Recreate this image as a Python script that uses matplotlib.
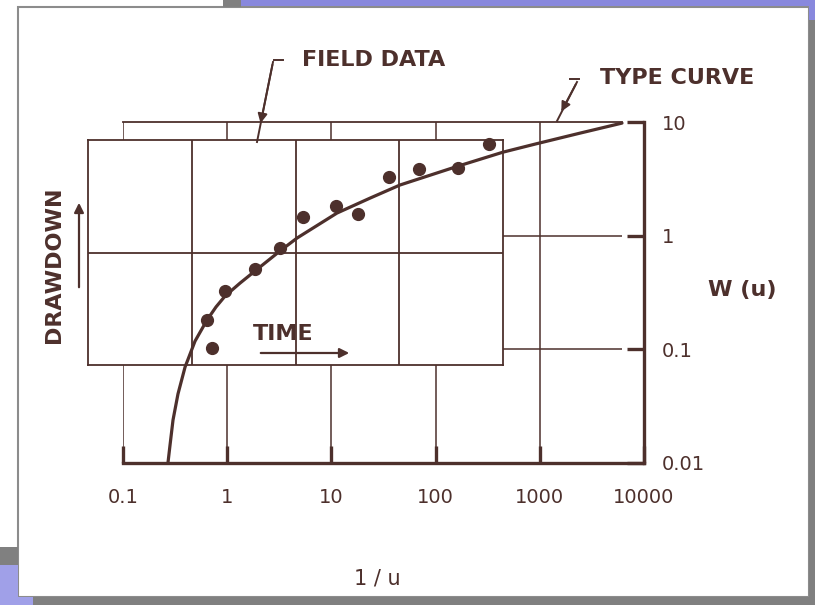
import matplotlib
matplotlib.use("Agg")
import matplotlib.pyplot as plt
from matplotlib.patches import Rectangle, FancyArrowPatch
from matplotlib.lines import Line2D
from matplotlib.ticker import NullLocator

# Type curve, W(u) against 1/u
type_x = [0.270, 0.282, 0.302, 0.337, 0.394, 0.491, 0.640, 0.781, 0.953, 1.33, 1.85,
          3.21, 4.68, 11.3, 23.5, 45.5, 164, 444, 900, 2430, 6150]
type_w = [0.010, 0.0141, 0.0239, 0.0405, 0.0698, 0.118, 0.181, 0.236, 0.294, 0.383, 0.489,
          0.733, 0.953, 1.58, 2.14, 2.79, 4.09, 5.43, 6.39, 7.98, 9.78]

# Field data on its own log-log sheet (time, drawdown)
field_t = [15.7, 14.0, 20.9, 40.7, 70.9, 118, 246, 400, 796, 1550, 3680, 7330]
field_s = [0.142, 0.251, 0.455, 0.713, 1.10, 2.07, 2.59, 2.20, 4.69, 5.52, 5.64, 9.20]

x_ticks = [0.1, 1, 10, 100, 1000, 10000]
x_labels = ["0.1", "1", "10", "100", "1000", "10000"]
y_ticks = [0.01, 0.1, 1, 10]
y_labels = ["0.01", "0.1", "1", "10"]

ink = "#4d302c"
W, H = 815, 605

fig = plt.figure(figsize=(W / 100, H / 100), dpi=100)
fig.patch.set_facecolor("white")


def fx(x):
    return x / W


def fy(y):
    return 1 - y / H


def box(x0, y0, x1, y1, **kw):
    fig.add_artist(Rectangle((fx(x0), fy(y1)), (x1 - x0) / W, (y1 - y0) / H,
                             transform=fig.transFigure, **kw))


# slide frame
box(18, 7, 809, 597, facecolor="white", edgecolor="#8c8c8c", lw=1.5)
box(241, 0, 815, 6, facecolor="#8888dd", edgecolor="none")
box(809, 0, 815, 20, facecolor="#8888dd", edgecolor="none")
box(223, 0, 241, 7, facecolor="#808080", edgecolor="none")
box(241, 6, 809, 8, facecolor="#8c8c8c", edgecolor="none")
box(809, 20, 815, 605, facecolor="#808080", edgecolor="none")
box(33, 597, 815, 605, facecolor="#808080", edgecolor="none")
box(0, 547, 18, 565, facecolor="#808080", edgecolor="none")
box(0, 565, 18, 605, facecolor="#a0a0e8", edgecolor="none")
box(18, 597, 33, 605, facecolor="#a0a0e8", edgecolor="none")

# type curve sheet
ax = fig.add_axes([fx(123), fy(463), 521 / W, 341 / H])
ax.set_zorder(1)
ax.patch.set_alpha(0)
ax.set_xscale("log")
ax.set_yscale("log")
ax.set_xlim(0.1, 10000)
ax.set_ylim(0.01, 10)
ax.vlines(x_ticks[:-1], 0.01, 10, color=ink, lw=1.1)
ax.hlines(y_ticks[1:3], 0.1, type_x[-1], color=ink, lw=1.1)
ax.spines["left"].set_visible(False)
ax.spines["top"].set_bounds(0.1, type_x[-1])
ax.spines["top"].set_linewidth(1.3)
for side in ["bottom", "right"]:
    ax.spines[side].set_linewidth(2.4)
for side in ax.spines:
    ax.spines[side].set_color(ink)
ax.set_xticks(x_ticks)
ax.set_xticklabels(x_labels)
ax.set_yticks(y_ticks)
ax.set_yticklabels(y_labels)
ax.xaxis.set_minor_locator(NullLocator())
ax.yaxis.set_minor_locator(NullLocator())
ax.yaxis.tick_right()
ax.tick_params(axis="x", direction="in", length=12, width=2.4, color=ink,
               labelcolor=ink, labelsize=14, pad=18)
ax.tick_params(axis="y", direction="in", length=12, width=2.4, color=ink,
               labelcolor=ink, labelsize=14, pad=13)

# field data sheet laid over it
fa = fig.add_axes([fx(88), fy(365), 415 / W, 225 / H])
fa.set_zorder(2)
fa.set_facecolor("white")
fa.set_xscale("log")
fa.set_yscale("log")
fa.set_xlim(1, 10000)
fa.set_ylim(0.1, 10)
fa.set_xticks([10, 100, 1000])
fa.set_yticks([1])
fa.xaxis.set_minor_locator(NullLocator())
fa.yaxis.set_minor_locator(NullLocator())
fa.tick_params(length=0, labelbottom=False, labelleft=False)
fa.grid(True, color=ink, lw=1.3)
for side in fa.spines:
    fa.spines[side].set_color(ink)
    fa.spines[side].set_linewidth(1.3)
fa.plot(field_t, field_s, "o", color=ink, ms=8.5, clip_on=False)

# curve drawn on top of both sheets
oa = fig.add_axes(ax.get_position())
oa.set_zorder(3)
oa.patch.set_alpha(0)
oa.set_xscale("log")
oa.set_yscale("log")
oa.set_xlim(ax.get_xlim())
oa.set_ylim(ax.get_ylim())
oa.axis("off")
oa.plot(type_x, type_w, color=ink, lw=2.3, clip_on=False,
        solid_joinstyle="round", solid_capstyle="round")

# labels
bold = dict(color=ink, fontweight="bold", fontsize=16, zorder=5)
fig.text(fx(302), fy(60), "FIELD DATA", ha="left", va="center", **bold)
fig.text(fx(600), fy(78), "TYPE CURVE", ha="left", va="center", **bold)
fig.text(fx(742), fy(290), "W (u)", ha="center", va="center", **bold)
fig.text(fx(54), fy(265), "DRAWDOWN", ha="center", va="center", rotation=90, **bold)
tt = fig.text(fx(253), fy(334), "TIME", ha="left", va="center", **bold)
tt.set_zorder(6)
fig.text(fx(377), fy(578), "1 / u", ha="center", va="center", color=ink, fontsize=15)


def leader(p0, p1, head):
    fig.add_artist(Line2D([fx(p0[0]), fx(p1[0])], [fy(p0[1]), fy(p1[1])],
                          transform=fig.transFigure, color=ink, lw=1.4, zorder=6))
    fig.add_artist(FancyArrowPatch((fx(p0[0]), fy(p0[1])), (fx(head[0]), fy(head[1])),
                                   transform=fig.transFigure, arrowstyle="-|>",
                                   mutation_scale=14, color=ink, lw=1.4, zorder=6))


leader((273, 62), (257, 142), (260, 126))
fig.add_artist(Line2D([fx(274), fx(283)], [fy(60), fy(60)], transform=fig.transFigure,
                      color=ink, lw=1.4))
leader((577, 82), (557, 121), (560, 114))
fig.add_artist(Line2D([fx(570), fx(579)], [fy(79), fy(79)], transform=fig.transFigure,
                      color=ink, lw=1.4))

# TIME and DRAWDOWN arrows
fig.add_artist(FancyArrowPatch((fx(258), fy(353)), (fx(352), fy(353)),
                               transform=fig.transFigure, arrowstyle="-|>",
                               mutation_scale=14, color=ink, lw=1.6, zorder=6))
fig.add_artist(FancyArrowPatch((fx(79), fy(290)), (fx(79), fy(200)),
                               transform=fig.transFigure, arrowstyle="-|>",
                               mutation_scale=14, color=ink, lw=1.6, zorder=6))

fig.savefig("out.png", dpi=100)
